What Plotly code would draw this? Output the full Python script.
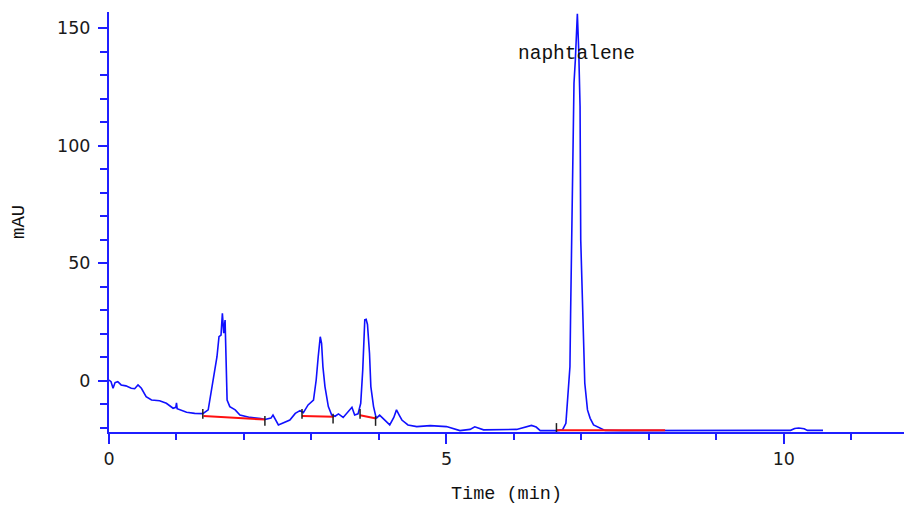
import plotly.graph_objects as go

# Chromatogram signal (time in min, absorbance in mAU)
time_min = [
    0.00, 0.03, 0.06, 0.09, 0.13, 0.18, 0.25, 0.33, 0.38, 0.43, 0.48, 0.55,
    0.63, 0.75, 0.85, 0.95, 0.99, 1.00, 1.01, 1.15, 1.27, 1.39, 1.47, 1.52,
    1.57, 1.60, 1.63, 1.66, 1.68, 1.70, 1.72, 1.74, 1.75, 1.79, 1.87, 1.94,
    2.09, 2.25, 2.31, 2.40, 2.43, 2.51, 2.61, 2.68, 2.76, 2.83, 2.88, 2.95,
    3.03, 3.07, 3.10, 3.13, 3.15, 3.17, 3.20, 3.25, 3.30, 3.35, 3.40, 3.47,
    3.60, 3.64, 3.69, 3.73, 3.76, 3.78, 3.79, 3.81, 3.83, 3.86, 3.88, 3.92,
    3.96, 4.01, 4.09, 4.16, 4.22, 4.26, 4.30, 4.34, 4.43, 4.51, 4.56, 4.76,
    5.00, 5.20, 5.35, 5.42, 5.50, 5.55, 6.04, 6.15, 6.26, 6.33, 6.39, 6.63,
    6.72, 6.77, 6.80, 6.83, 6.84, 6.87, 6.89, 6.91, 6.93, 6.94, 6.96, 6.98,
    6.99, 7.01, 7.03, 7.05, 7.09, 7.13, 7.18, 7.27, 7.35, 7.60, 8.50, 9.00,
    9.60, 10.10, 10.16, 10.22, 10.30, 10.35, 10.58,
]
signal_mau = [
    0.4, -0.3, -3.1, -0.7, -0.3, -1.7, -2.1, -3.1, -3.3, -1.7, -3.1, -6.7,
    -8.1, -8.4, -9.5, -11.6, -11.2, -9.3, -11.8, -13.3, -13.8, -13.9, -12.3, -3.8,
    4.7, 10.3, 18.8, 19.5, 28.8, 20.3, 25.9, 7.5, -8.1, -10.9, -12.3, -14.5,
    -15.5, -16.0, -16.4, -15.8, -14.5, -18.7, -17.3, -16.6, -13.8, -12.6, -13.5, -10.2,
    -8.1, 0.4, 10.3, 18.8, 16.0, 6.0, -2.4, -10.9, -14.5, -15.0, -14.0, -15.5,
    -11.2, -14.5, -14.0, -9.5, 4.7, 20.3, 26.0, 26.2, 24.0, 11.8, -2.4, -10.9,
    -15.9, -14.5, -16.6, -18.7, -15.5, -12.3, -14.5, -16.6, -18.7, -19.0, -19.4, -19.0,
    -19.4, -21.1, -20.6, -19.5, -20.4, -20.8, -20.6, -19.8, -18.9, -19.6, -21.1, -21.1,
    -20.8, -18.0, -6.7, 6.0, 28.8, 93.9, 126.5, 136.4, 149.0, 156.0, 140.7, 116.6,
    59.9, 37.3, 20.3, -1.0, -12.3, -15.9, -18.7, -20.1, -21.0, -21.1, -21.0, -21.1,
    -21.0, -21.0, -20.2, -20.0, -20.3, -21.0, -21.0,
]

# Integration baselines: (start time, start value, end time, end value)
baseline_start_t = [1.40, 2.86, 3.72, 6.63]
baseline_start_v = [-14.9, -14.9, -14.6, -21.0]
baseline_end_t = [2.31, 3.33, 3.96, 8.24]
baseline_end_v = [-16.4, -15.2, -16.0, -21.0]

# Integration event marks
mark_t = [1.39, 2.86, 3.72, 6.63, 2.31, 3.32, 3.95]
mark_v = [-14.0, -14.0, -14.0, -20.0, -17.0, -16.0, -17.0]

peak_label = "naphtalene"
peak_label_t = 6.93
peak_label_v = 139.0

x_range = [0, 11.78]
y_range = [-21.7, 156.8]
x_ticks = [0, 5, 10]
y_ticks = [0, 50, 100, 150]

AXIS_BLUE = "#1f1fff"
TRACE_BLUE = "#1010ff"
MONO = "Liberation Mono, Courier New, monospace"
SANS = "DejaVu Sans, Verdana, sans-serif"

fig = go.Figure()

fig.add_trace(go.Scatter(
    x=time_min, y=signal_mau, mode="lines",
    line=dict(color=TRACE_BLUE, width=1.6, shape="linear"),
    showlegend=False, hoverinfo="x+y",
))

for t0, v0, t1, v1 in zip(baseline_start_t, baseline_start_v, baseline_end_t, baseline_end_v):
    fig.add_trace(go.Scatter(
        x=[t0, t1], y=[v0, v1], mode="lines",
        line=dict(color="#ff1010", width=2),
        showlegend=False, hoverinfo="skip",
    ))

fig.add_trace(go.Scatter(
    x=mark_t, y=mark_v, mode="markers",
    marker=dict(symbol="line-ns", size=7, line=dict(color="#202020", width=1.5)),
    showlegend=False, hoverinfo="skip",
))

fig.add_annotation(
    x=peak_label_t, y=peak_label_v, text=peak_label, showarrow=False,
    xanchor="center", yanchor="middle",
    font=dict(family=MONO, size=19.5, color="#111111"),
)
fig.add_annotation(
    xref="paper", yref="paper", x=0.5, y=-0.1775, text="Time (min)",
    showarrow=False, xanchor="center", yanchor="bottom",
    font=dict(family=MONO, size=18.5, color="#111111"),
)
fig.add_annotation(
    xref="paper", yref="paper", x=-0.1132, y=0.5, text="mAU", textangle=-90,
    showarrow=False, xanchor="center", yanchor="middle",
    font=dict(family=MONO, size=19, color="#111111"),
)

axis_common = dict(
    showline=True, linecolor=AXIS_BLUE, linewidth=2,
    ticks="outside", tickcolor=AXIS_BLUE, tickwidth=2,
    showgrid=False, zeroline=False,
    tickfont=dict(family=SANS, size=17.5, color="#1a1a1a"),
)

fig.update_xaxes(
    range=x_range, tickvals=x_ticks, ticklen=10,
    minor=dict(dtick=1, tick0=0, ticks="outside", ticklen=6, tickcolor=AXIS_BLUE, tickwidth=2, showgrid=False),
    **axis_common,
)
fig.update_yaxes(
    range=y_range, tickvals=y_ticks, ticklen=9, ticklabelstandoff=4,
    minor=dict(dtick=10, tick0=0, ticks="outside", ticklen=7, tickcolor=AXIS_BLUE, tickwidth=2, showgrid=False),
    **axis_common,
)

fig.update_layout(
    width=904, height=507, autosize=False,
    margin=dict(l=109, r=0, t=12, b=75, pad=0),
    plot_bgcolor="white", paper_bgcolor="white",
)

fig.write_html("out.html")
